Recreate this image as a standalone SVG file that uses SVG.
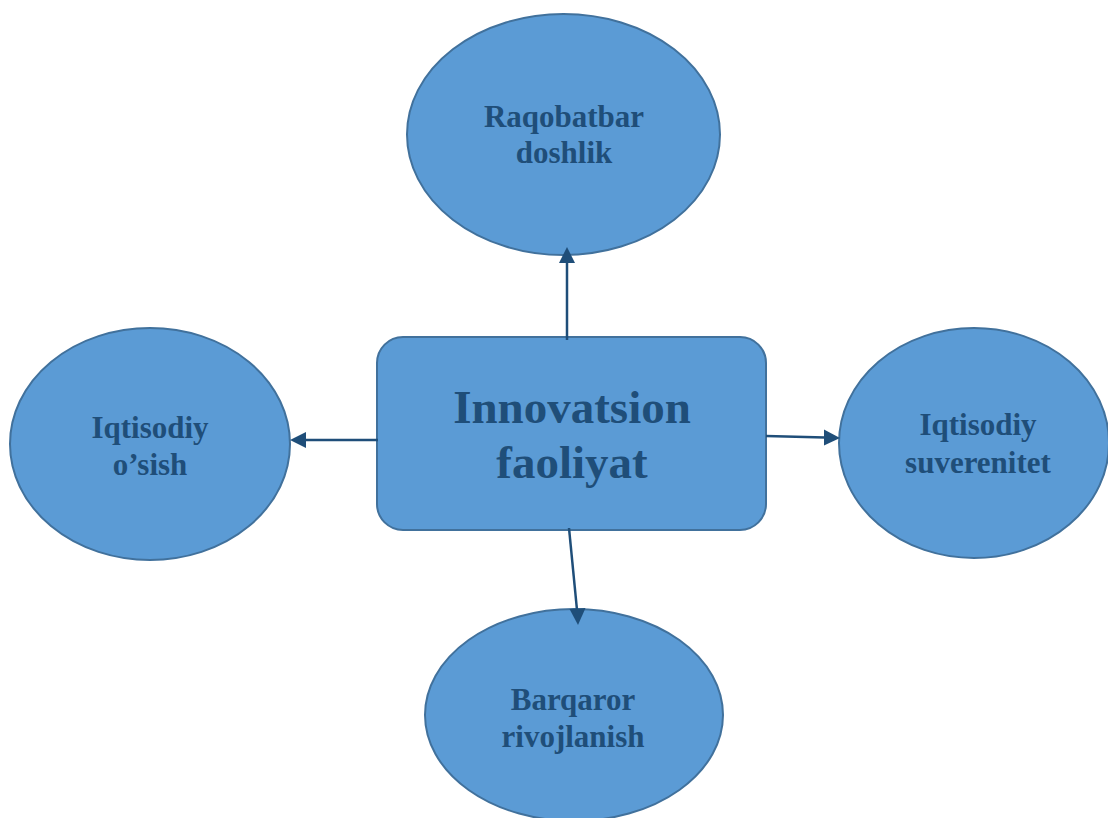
<svg xmlns="http://www.w3.org/2000/svg" width="1108" height="818" viewBox="0 0 1108 818">
<defs>
<style>
.shape{fill:#5B9BD5;stroke:#41719C;stroke-width:2}
.lbl{font-family:"Liberation Serif","Times New Roman",serif;font-weight:bold;fill:#1F4E79;text-anchor:middle;font-size:31px}
.big{font-size:47px}
.conn{stroke:#1F4E79;stroke-width:2.5;fill:none}
.head{fill:#1F4E79}
</style>
</defs>
<rect width="1108" height="818" fill="#ffffff"/>
<g id="node-raqobatbar">
<ellipse class="shape" cx="563.5" cy="134.5" rx="156.5" ry="120.5"/>
<text class="lbl" x="564" y="127">Raqobatbar</text>
<text class="lbl" x="564" y="163">doshlik</text>
</g>
<g id="node-innovatsion">
<rect class="shape" x="377" y="337" width="389" height="193" rx="26" ry="26"/>
<text class="lbl big" x="572" y="423">Innovatsion</text>
<text class="lbl big" x="572" y="478">faoliyat</text>
</g>
<g id="node-iqtisodiy-osish">
<ellipse class="shape" cx="150" cy="444" rx="140" ry="116"/>
<text class="lbl" x="150" y="438">Iqtisodiy</text>
<text class="lbl" x="150" y="475">o’sish</text>
</g>
<g id="node-iqtisodiy-suverenitet">
<ellipse class="shape" cx="974" cy="443" rx="135" ry="115"/>
<text class="lbl" x="978" y="435">Iqtisodiy</text>
<text class="lbl" x="978" y="473">suverenitet</text>
</g>
<g id="node-barqaror">
<ellipse class="shape" cx="574" cy="715" rx="149" ry="106"/>
<text class="lbl" x="573" y="710">Barqaror</text>
<text class="lbl" x="573" y="747">rivojlanish</text>
</g>
<g id="connectors">
<line class="conn" x1="567" y1="340" x2="567" y2="262"/>
<path class="head" d="M559,263 L567,247 L575,263 z"/>
<line class="conn" x1="378" y1="440" x2="305" y2="440"/>
<path class="head" d="M306,432 L290,440 L306,448 z"/>
<line class="conn" x1="766" y1="436" x2="825" y2="437.5"/>
<path class="head" d="M824,429.5 L840,438 L824,445.5 z"/>
<line class="conn" x1="569" y1="528" x2="577" y2="610"/>
<path class="head" d="M569.5,609 L578,625 L585.5,608 z"/>
</g>
</svg>
